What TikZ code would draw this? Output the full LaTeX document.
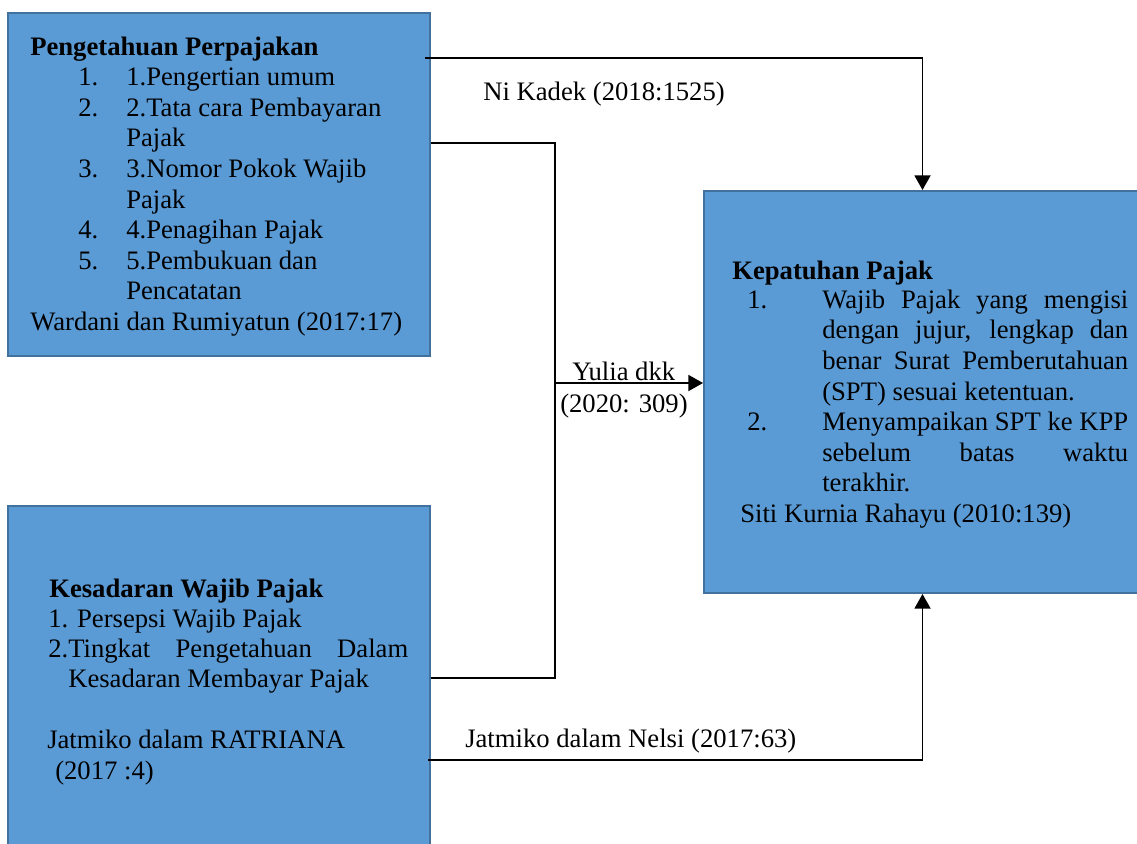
\documentclass[tikz,border=0pt]{standalone}
\usepackage{fontspec}
\setmainfont{Liberation Serif}
\usetikzlibrary{arrows.meta,calc}
\definecolor{boxfill}{RGB}{91,155,213}
\definecolor{boxedge}{RGB}{65,113,156}
\newcommand{\spreadline}[2]{\makebox[#1][s]{#2}}

\begin{document}
\begin{tikzpicture}[x=0.75pt,y=-0.75pt,
	varbox/.style={draw=boxedge,fill=boxfill,line width=1.5pt,inner sep=0pt},
	txt/.style={anchor=base west,inner sep=0pt,font=\fontsize{20}{23}\selectfont},
	head/.style={txt,font=\fontsize{20}{23}\selectfont\bfseries},
	link/.style={line width=1.1pt},
	linkarrow/.style={line width=1.4pt,-{Triangle[width=12pt,length=11pt]}}]
	\clip (0,0) rectangle (1137,843);

	%BOXES
	\node[varbox,minimum width=316.5pt,minimum height=257.25pt] (pengetahuan) at (219,184.5) {};
	\node[varbox,minimum width=316.5pt,minimum height=258pt] (kesadaran) at (219,678) {};
	\node[varbox,minimum width=327.75pt,minimum height=301.5pt] (kepatuhan) at (922.5,392) {};

	%CONNECTORS
	\coordinate (junction) at (555,383);
	\draw[linkarrow] ($(pengetahuan.north east)+(-6,46)$) -| (kepatuhan.north);	%top
	\draw[link] ($(pengetahuan.north east)+(0,131)$) -| (junction);
	\draw[link] ($(kesadaran.north east)+(0,173)$) -| (junction);
	\draw[linkarrow] (junction) -- (junction -| kepatuhan.west);	%middle
	\draw[linkarrow] ($(kesadaran.north east)+(-3,255)$) -| (kepatuhan.south);	%bottom

	%PENGETAHUAN PERPAJAKAN
	\node[head] at (30,55) {Pengetahuan Perpajakan};
	\node[txt] at (78,85.6) {1.};	\node[txt] at (126,85.6) {1.Pengertian umum};
	\node[txt] at (78,116.2) {2.};	\node[txt] at (126,116.2) {2.Tata cara Pembayaran};
	\node[txt] at (126,146.8) {Pajak};
	\node[txt] at (78,177.4) {3.};	\node[txt] at (126,177.4) {3.Nomor Pokok Wajib};
	\node[txt] at (126,208) {Pajak};
	\node[txt] at (78,238.6) {4.};	\node[txt] at (126,238.6) {4.Penagihan Pajak};
	\node[txt] at (78,269.2) {5.};	\node[txt] at (126,269.2) {5.Pembukuan dan};
	\node[txt] at (126,299.8) {Pencatatan};
	\node[txt] at (30,330.4) {Wardani dan Rumiyatun (2017:17)};

	%KESADARAN WAJIB PAJAK
	\node[head] at (49,597) {Kesadaran Wajib Pajak};
	\node[txt] at (48,627) {1. Persepsi Wajib Pajak};
	\node[txt] at (48,657) {\spreadline{270pt}{2.Tingkat Pengetahuan Dalam}};
	\node[txt] at (68,687) {Kesadaran Membayar Pajak};
	\node[txt] at (47,748) {Jatmiko dalam RATRIANA};
	\node[txt] at (55,779) {(2017 :4)};

	%KEPATUHAN PAJAK
	\node[head] at (732,279) {Kepatuhan Pajak};
	\node[txt] at (747,308) {1.};	\node[txt] at (822,308) {\spreadline{229.5pt}{Wajib Pajak yang mengisi}};
	\node[txt] at (822,338.5) {\spreadline{229.5pt}{dengan jujur, lengkap dan}};
	\node[txt] at (822,369.5) {\spreadline{229.5pt}{benar Surat Pemberutahuan}};
	\node[txt] at (822,400) {(SPT) sesuai ketentuan.};
	\node[txt] at (747,430.5) {2.};	\node[txt] at (822,430.5) {\spreadline{229.5pt}{Menyampaikan SPT ke KPP}};
	\node[txt] at (822,461) {\spreadline{229.5pt}{sebelum batas waktu}};
	\node[txt] at (822,491.5) {terakhir.};
	\node[txt] at (740,522) {Siti Kurnia Rahayu (2010:139)};

	%LABELS
	\node[txt] at (483,100) {Ni Kadek (2018:1525)};
	\node[txt] at (572,380) {Yulia dkk};
	\node[txt] at (560,412) {(2020: 309)};
	\node[txt] at (465,747) {Jatmiko dalam Nelsi (2017:63)};
\end{tikzpicture}
\end{document}
